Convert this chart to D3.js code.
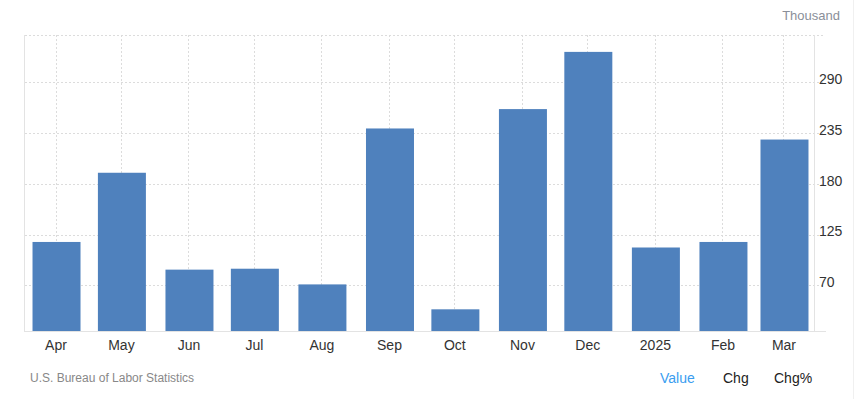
<!DOCTYPE html>
<html lang="en">
  <head>
    <meta charset="utf-8" />
    <style>
      html,
      body {
        margin: 0;
        background: #fff;
      }

      svg {
        display: block;
        font-family: Arial, "Liberation Sans", sans-serif;
      }
    </style>
    <script src="https://d3js.org/d3.v7.min.js"></script>
  </head>
  <body>
    <svg width="862" height="399"></svg>

    <script>
      // monthly change, thousands
      var months = ['2024-04', '2024-05', '2024-06', '2024-07', '2024-08', '2024-09',
        '2024-10', '2024-11', '2024-12', '2025-01', '2025-02', '2025-03'];
      var monthLabels = ['Apr', 'May', 'Jun', 'Jul', 'Aug', 'Sep', 'Oct', 'Nov', 'Dec', '2025', 'Feb', 'Mar'];
      var values = [117, 192, 87, 88, 71, 240, 44, 261, 323, 111, 117, 228];
      var yTicks = [70, 125, 180, 235, 290];

      var svg = d3.select('svg'),
        parse = d3.utcParse('%Y-%m'),
        dates = months.map(parse),
        plotLeft = 25,
        plotRight = 814,
        plotTop = 35,
        plotBottom = 331,
        yMin = 20.5,
        yMax = 341.3;

      var x = d3.scaleUtc()
        .domain([new Date(Date.UTC(2024, 2, 18)), new Date(Date.UTC(2025, 2, 15))])
        .range([plotLeft, plotRight]);

      var y = d3.scaleLinear()
        .domain([yMin, yMax])
        .range([plotBottom, plotTop]);

      var barW = 48;

      // horizontal grid
      svg.append('g')
        .selectAll('line')
        .data(yTicks.concat([yMax]))
        .enter().append('line')
        .attr('x1', plotLeft)
        .attr('x2', 823)
        .attr('y1', function(d) { return Math.round(y(d)) + 0.5; })
        .attr('y2', function(d) { return Math.round(y(d)) + 0.5; })
        .attr('stroke', '#dcdcdc')
        .attr('stroke-dasharray', '2,2');

      // vertical grid
      svg.append('g')
        .selectAll('line')
        .data(dates)
        .enter().append('line')
        .attr('x1', function(d) { return Math.round(x(d)) + 0.5; })
        .attr('x2', function(d) { return Math.round(x(d)) + 0.5; })
        .attr('y1', plotTop)
        .attr('y2', plotBottom)
        .attr('stroke', '#dcdcdc')
        .attr('stroke-dasharray', '2,2');

      // bars
      svg.append('g')
        .selectAll('rect')
        .data(values)
        .enter().append('rect')
        .attr('x', function(d, i) { return x(dates[i]) - barW / 2 + 1; })
        .attr('width', barW)
        .attr('y', function(d) { return y(d); })
        .attr('height', function(d) { return y(yMin) - y(d); })
        .attr('fill', '#4f81bd');

      // frame lines
      svg.append('line')
        .attr('x1', plotLeft - 0.5).attr('x2', plotLeft - 0.5)
        .attr('y1', plotTop).attr('y2', plotBottom + 1)
        .attr('stroke', '#e3e3e3');
      svg.append('line')
        .attr('x1', plotRight + 0.5).attr('x2', plotRight + 0.5)
        .attr('y1', plotTop).attr('y2', plotBottom + 1)
        .attr('stroke', '#e3e3e3');
      svg.append('line')
        .attr('x1', plotLeft - 1).attr('x2', 826)
        .attr('y1', plotBottom + 0.5).attr('y2', plotBottom + 0.5)
        .attr('stroke', '#e3e3e3');
      svg.append('line')
        .attr('x1', 853.5).attr('x2', 853.5)
        .attr('y1', 0).attr('y2', 399)
        .attr('stroke', '#f0f0f0');

      // x axis
      var xAxis = d3.axisBottom(x)
        .tickValues(dates)
        .tickSize(0)
        .tickPadding(9)
        .tickFormat(function(d, i) { return monthLabels[i]; });

      svg.append('g')
        .attr('transform', 'translate(0,' + plotBottom + ')')
        .call(xAxis)
        .call(function(g) { g.select('.domain').remove(); })
        .selectAll('text')
        .attr('font-size', 14)
        .attr('font-family', 'Arial, "Liberation Sans", sans-serif')
        .attr('fill', '#333');

      // y axis
      var yAxis = d3.axisRight(y)
        .tickValues(yTicks)
        .tickSize(0)
        .tickPadding(5);

      svg.append('g')
        .attr('transform', 'translate(' + plotRight + ',0)')
        .call(yAxis)
        .call(function(g) { g.select('.domain').remove(); })
        .selectAll('text')
        .attr('x', 5)
        .attr('dy', '0.1em')
        .attr('font-size', 14)
        .attr('font-family', 'Arial, "Liberation Sans", sans-serif')
        .attr('fill', '#333');

      svg.append('text')
        .attr('x', 840)
        .attr('y', 20)
        .attr('text-anchor', 'end')
        .attr('font-size', 13)
        .attr('fill', '#8a8f99')
        .text('Thousand');

      svg.append('text')
        .attr('x', 30)
        .attr('y', 382)
        .attr('font-size', 12)
        .attr('fill', '#888')
        .text('U.S. Bureau of Labor Statistics');

      var legend = [
        { label: 'Value', x: 660, color: '#3a9df0' },
        { label: 'Chg', x: 723, color: '#222' },
        { label: 'Chg%', x: 774, color: '#222' }
      ];

      svg.append('g')
        .selectAll('text')
        .data(legend)
        .enter().append('text')
        .attr('x', function(d) { return d.x; })
        .attr('y', 383)
        .attr('font-size', 14)
        .attr('fill', function(d) { return d.color; })
        .text(function(d) { return d.label; });
    </script>
  </body>
</html>
